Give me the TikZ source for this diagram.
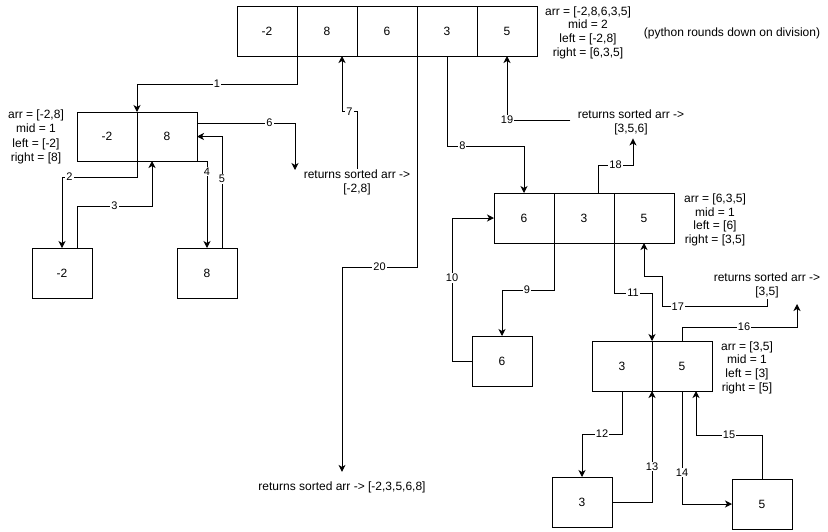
\documentclass[tikz,border=0pt]{standalone}
\usepackage{fontspec}
\setmainfont{Liberation Sans}
\usetikzlibrary{positioning,arrows.meta}

\begin{document}
\begin{tikzpicture}[x=1pt,y=-1pt,line width=1pt,
  cell/.style={draw,minimum width=60pt,minimum height=50pt,inner sep=0,outer sep=0,font=\fontsize{12}{14}\selectfont},
  note/.style={align=center,inner sep=1pt,font=\fontsize{12}{13.7}\selectfont},
  num/.style={fill=white,inner sep=1pt,font=\fontsize{11}{12}\selectfont},
  arr/.style={-{Stealth[length=7pt,width=7pt,inset=2pt]}}]
\useasboundingbox (0,0) rectangle (828,531);

\node[cell] (a1) at (267,31) {-2};
\node[cell,right=0pt of a1] (a2) {8};
\node[cell,right=0pt of a2] (a3) {6};
\node[cell,right=0pt of a3] (a4) {3};
\node[cell,right=0pt of a4] (a5) {5};
\node[note] (top) at (588,32.5) {arr = [-2,8,6,3,5]\\mid = 2\\left = [-2,8]\\right = [6,3,5]};
\node[note] (py) at (732,33) {(python rounds down on division)};

\node[cell,minimum height=49pt] (b1) at (107,136.5) {-2};
\node[cell,minimum height=49pt,right=0pt of b1] (b2) {8};
\node[note,font=\fontsize{12}{14.5}\selectfont] (lft) at (36,137) {arr = [-2,8]\\mid = 1\\left = [-2]\\right = [8]};
\node[cell] (c1) at (62,273) {-2};
\node[cell] (c2) at (207,273) {8};
\node[note] (ret1) at (357,182.5) {returns sorted arr ->\\{[-2,8]}};

\node[cell] (m1) at (524,218) {6};
\node[cell,right=0pt of m1] (m2) {3};
\node[cell,right=0pt of m2] (m3) {5};
\node[note] (mid) at (715,220) {arr = [6,3,5]\\mid = 1\\left = [6]\\right = [3,5]};
\node[cell] (d1) at (502,361) {6};
\node[note] (ret2) at (631,122.5) {returns sorted arr ->\\{[3,5,6]}};
\node[note] (ret3) at (767,285.5) {returns sorted arr ->\\{[3,5]}};

\node[cell] (e1) at (622,366) {3};
\node[cell,right=0pt of e1] (e2) {5};
\node[note] (rgt) at (747,367.5) {arr = [3,5]\\mid = 1\\left = [3]\\right = [5]};
\node[cell] (f1) at (582,502) {3};
\node[cell] (f2) at (762,504) {5};

\node[note] (ret4) at (342,487) {returns sorted arr -> [-2,3,5,6,8]};
\coordinate (r6) at (295,170);
\coordinate (r16) at (797,304);

\draw[arr] (a1.south east) -- ++(0,28) -| node[num,pos=0.25] {1} (b1.north east);
\draw[arr] (b1.south east) -- ++(0,16) -| node[num,pos=0.45] {2} (c1.north);
\draw[arr] ([xshift=15pt]c1.north) -- ++(0,-42) -| node[num,pos=0.25] {3} ([xshift=15pt]b1.south east);
\draw[arr] (b2.south east) -| node[num,pos=0.56] {4} (c2.north);
\draw[arr] ([xshift=15pt]c2.north) |- node[num,pos=0.31] {5} (b2.east);
\draw[arr] ([yshift=13.5pt]b2.east) -| node[num,pos=0.37] {6} (r6);
\draw[arr] (ret1.north) -- ++(0,-57) -| node[num,pos=0.25] {7} ([xshift=15pt]a2.south);
\draw[arr] (a4.south) -- ++(0,90) -| node[num,pos=0.1] {8} (m1.north);
\draw[arr] (m1.south east) -- ++(0,47) -| node[num,pos=0.26] {9} (d1.north);
\draw[arr] (d1.west) -- ++(-20,0) |- node[num,pos=0.29] {10} (m1.west);
\draw[arr] (m2.south east) -- ++(0,50) -| node[num,pos=0.25] {11} (e1.north east);
\draw[arr] (e1.south) -- ++(0,43) -| node[num,pos=0.25] {12} (f1.north);
\draw[arr] (f1.east) -| node[num,pos=0.66] {13} (e1.south east);
\draw[arr] (e2.south) |- node[num,pos=0.36] {14} (f2.west);
\draw[arr] (f2.north) -- ++(0,-44) -| node[num,pos=0.25] {15} ([xshift=14pt]e2.south);
\draw[arr] (e2.north) -- ++(0,-14) -| node[num,pos=0.27] {16} (r16);
\draw[arr] (ret3.south) -- ++(0,7) -- node[num,pos=0.85] {17} ++(-105,0) -- ++(0,-30) -| (m3.south);
\draw[arr] ([xshift=14pt]m2.north) -- ++(0,-28) -| node[num,pos=0.25] {18} ([xshift=2pt,yshift=-2pt]ret2.south);
\draw[arr] ([xshift=-6pt,yshift=2.5pt]ret2.west) -| node[num,pos=0.5] {19} (a5.south);
\draw[arr] (a3.south east) -- ++(0,211) -| node[num,pos=0.25] {20} ([yshift=8pt]ret4.north);
\end{tikzpicture}
\end{document}
